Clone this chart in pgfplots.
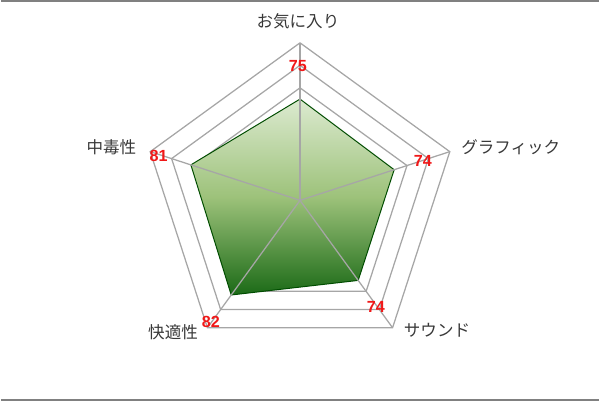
\documentclass[border=0pt]{standalone}
\usepackage{pgfplots}
\pgfplotsset{compat=1.18}
\usepackage{pgfplotstable}
\usepackage{fontspec}
\setmainfont{Liberation Sans}
\newfontfamily\cjk{Noto Sans CJK JP}

\definecolor{gridgray}{HTML}{A6A6A6}
\definecolor{labgray}{HTML}{383838}
\definecolor{numred}{HTML}{F01818}
\definecolor{gtop}{HTML}{DCEAD0}
\definecolor{gmid}{HTML}{9DC27A}
\definecolor{gbot}{HTML}{1B6A17}

% angle (deg), value ; radar starts at 30
\pgfplotstableread{
a v
90 75
18 74
-54 74
-126 82
162 81
90 75
}\scores

\begin{document}
\begin{tikzpicture}
\begin{axis}[
    scale only axis,
    width=15cm, height=10cm,
    xmin=-132.9, xmax=132.9,
    ymin=-88.6, ymax=88.6,
    hide axis,
    clip=false,
]
% pentagon rings 40..100
\pgfplotsinvokeforeach{40,50,60,70,80,90,100}{
  \addplot[gridgray, line width=0.9pt, mark=none] table[
    x expr={cos(\thisrow{a})*(#1-30)},
    y expr={sin(\thisrow{a})*(#1-30)}] {\scores};
}
% data polygon
\addplot[draw=black!70!green, line width=0.7pt, mark=none,
    top color=gtop, bottom color=gbot, middle color=gmid] table[
    x expr={cos(\thisrow{a})*(\thisrow{v}-30)},
    y expr={sin(\thisrow{a})*(\thisrow{v}-30)}] {\scores};
% spokes
\addplot[gridgray, line width=0.9pt] coordinates {(0,0) (0,70)};
\addplot[gridgray, line width=0.9pt] coordinates {(0,0) (66.57,21.63)};
\addplot[gridgray, line width=0.9pt] coordinates {(0,0) (41.14,-56.63)};
\addplot[gridgray, line width=0.9pt] coordinates {(0,0) (-41.14,-56.63)};
\addplot[gridgray, line width=0.9pt] coordinates {(0,0) (-66.57,21.63)};

% category labels
\node[labgray, font=\cjk\fontsize{11.8}{13}\selectfont] at (axis cs:-0.9,79.8) {お気に入り};
\node[labgray, anchor=west, font=\cjk\fontsize{11.8}{13}\selectfont] at (axis cs:69.5,23.5) {グラフィック};
\node[labgray, anchor=west, font=\cjk\fontsize{11.8}{13}\selectfont] at (axis cs:44.0,-57.6) {サウンド};
\node[labgray, anchor=east, font=\cjk\fontsize{11.8}{13}\selectfont] at (axis cs:-43.2,-58.5) {快適性};
\node[labgray, anchor=east, font=\cjk\fontsize{11.8}{13}\selectfont] at (axis cs:-70.6,23.5) {中毒性};

% value labels
\node[numred, font=\bfseries\fontsize{11.5}{13}\selectfont] at (axis cs:-1.0,59.8) {75};
\node[numred, font=\bfseries\fontsize{11.5}{13}\selectfont] at (axis cs:54.6,17.7) {74};
\node[numred, font=\bfseries\fontsize{11.5}{13}\selectfont] at (axis cs:33.7,-47.3) {74};
\node[numred, font=\bfseries\fontsize{11.5}{13}\selectfont] at (axis cs:-39.6,-53.9) {82};
\node[numred, font=\bfseries\fontsize{11.5}{13}\selectfont] at (axis cs:-62.8,19.9) {81};

% frame lines top and bottom
\draw[gray, line width=1.4pt] (rel axis cs:0,1) -- (rel axis cs:1,1);
\draw[gray, line width=1.4pt] (rel axis cs:0,0) -- (rel axis cs:1,0);
\end{axis}
\path (current axis.south west) rectangle (current axis.north east);
\end{tikzpicture}
\end{document}
